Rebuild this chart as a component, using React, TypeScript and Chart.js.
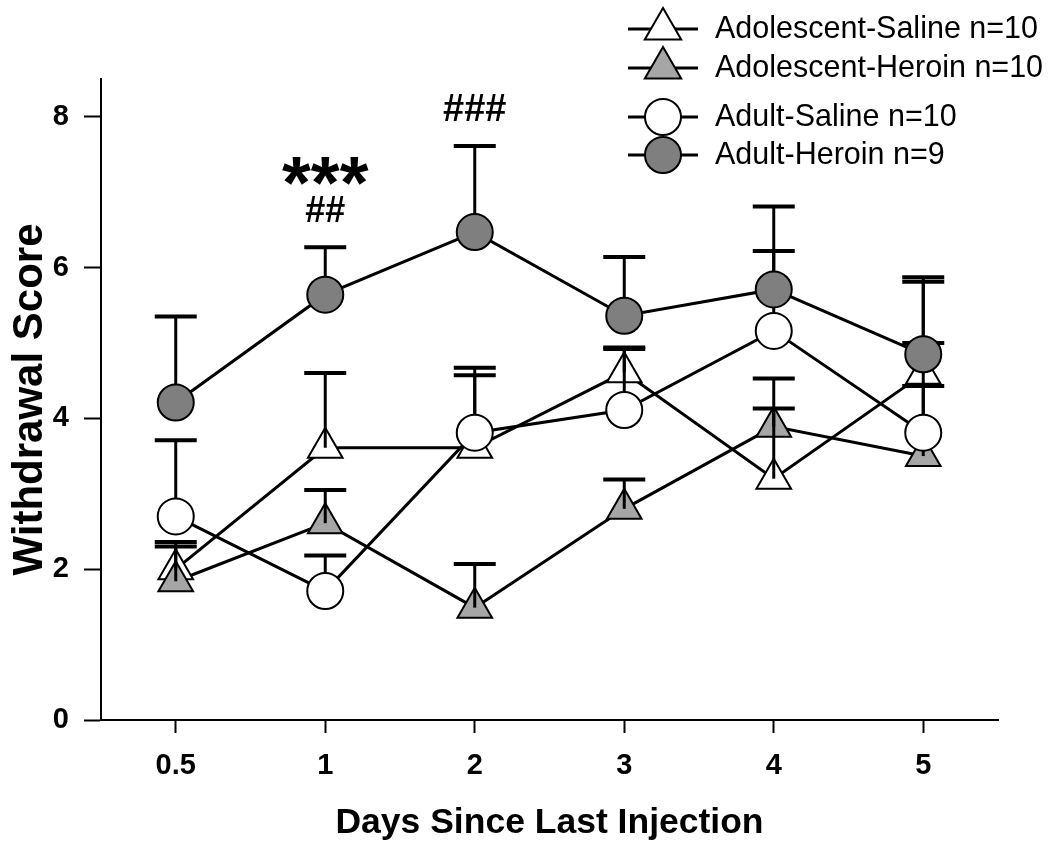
import React, { useEffect, useRef } from 'react';
import { Chart, registerables } from 'chart.js';

Chart.register(...registerables);

// ---- data ----
const categories = ['0.5', '1', '2', '3', '4', '5'];

const adolSalineMean = [2.0, 3.61, 3.61, 4.61, 3.2, 4.59];
const adolSalineTop = [2.36, 4.6, 4.57, 4.94, 4.13, 5.81];

const adolHeroinMean = [1.84, 2.61, 1.49, 2.8, 3.89, 3.5];
const adolHeroinTop = [2.3, 3.05, 2.07, 3.19, 4.53, 4.43];

const adultSalineMean = [2.7, 1.71, 3.81, 4.11, 5.16, 3.81];
const adultSalineTop = [3.71, 2.18, 4.67, 4.92, 6.22, 5.0];

const adultHeroinMean = [4.21, 5.64, 6.47, 5.36, 5.71, 4.85];
const adultHeroinTop = [5.35, 6.27, 7.61, 6.14, 6.81, 5.87];

const seriesLabels = [
  'Adolescent-Saline n=10',
  'Adolescent-Heroin n=10',
  'Adult-Saline n=10',
  'Adult-Heroin n=9',
];

const yMin = 0;
const yMax = 8.5;
const yStep = 2;

// significance annotations: text, category index, y value (baseline)
const annotTexts = ['***', '##', '###'];
const annotCats = [1, 1, 2];
const annotYs = [6.79, 6.6, 7.94];

// ---- styles ----
const FONT = "'Liberation Sans', Arial, Helvetica, sans-serif";
const LIGHT = '#a6a6a6';
const DARK = '#7f7f7f';

const series = [
  { label: seriesLabels[0], mean: adolSalineMean, top: adolSalineTop, style: 'triangle', fill: '#ffffff', radius: 20, order: 6 },
  { label: seriesLabels[1], mean: adolHeroinMean, top: adolHeroinTop, style: 'triangle', fill: LIGHT, radius: 20, order: 5 },
  { label: seriesLabels[2], mean: adultSalineMean, top: adultSalineTop, style: 'circle', fill: '#ffffff', radius: 18, order: 4 },
  { label: seriesLabels[3], mean: adultHeroinMean, top: adultHeroinTop, style: 'circle', fill: DARK, radius: 18, order: 3 },
];

function drawMarker(ctx: CanvasRenderingContext2D, style: string, x: number, y: number, r: number, fill: string) {
  ctx.save();
  ctx.beginPath();
  if (style === 'circle') {
    ctx.arc(x, y, r, 0, Math.PI * 2);
  } else {
    let rad = 0;
    ctx.moveTo(x + Math.sin(rad) * r, y - Math.cos(rad) * r);
    rad += (2 * Math.PI) / 3;
    ctx.lineTo(x + Math.sin(rad) * r, y - Math.cos(rad) * r);
    rad += (2 * Math.PI) / 3;
    ctx.lineTo(x + Math.sin(rad) * r, y - Math.cos(rad) * r);
    ctx.closePath();
  }
  ctx.fillStyle = fill;
  ctx.fill();
  ctx.lineWidth = 2;
  ctx.strokeStyle = '#000';
  ctx.stroke();
  ctx.restore();
}

const errorBarPlugin = {
  id: 'errorBars',
  afterDatasetDraw(chart: any, args: any) {
    const ds = chart.data.datasets[args.index];
    if (!ds || ds.drawErrAfter !== true) return;
    const xs = chart.scales.x;
    const ys = chart.scales.y;
    const ctx: CanvasRenderingContext2D = chart.ctx;
    ctx.save();
    ctx.strokeStyle = '#000';
    ctx.lineCap = 'butt';
    for (const s of series) {
      s.mean.forEach((m: number, i: number) => {
        const px = xs.getPixelForValue(i);
        const p0 = ys.getPixelForValue(m);
        const p1 = ys.getPixelForValue(s.top[i]);
        ctx.lineWidth = 3;
        ctx.beginPath();
        ctx.moveTo(px, p0);
        ctx.lineTo(px, p1);
        ctx.stroke();
        ctx.lineWidth = 4;
        ctx.beginPath();
        ctx.moveTo(px - 21, p1);
        ctx.lineTo(px + 21, p1);
        ctx.stroke();
      });
    }
    ctx.restore();
  },
};

const overlayPlugin = {
  id: 'overlay',
  afterDraw(chart: any) {
    const ctx: CanvasRenderingContext2D = chart.ctx;
    const xs = chart.scales.x;
    const ys = chart.scales.y;
    // annotations
    ctx.save();
    ctx.fillStyle = '#000';
    ctx.textAlign = 'center';
    ctx.textBaseline = 'alphabetic';
    annotTexts.forEach((t, i) => {
      const size = t.startsWith('*') ? 74 : t.length === 3 ? 38 : 36;
      ctx.font = `bold ${size}px ${FONT}`;
      ctx.fillText(t, xs.getPixelForValue(annotCats[i]), ys.getPixelForValue(annotYs[i]));
    });
    ctx.restore();

    // legend
    const rowsY = [29, 68, 117, 155];
    const lx0 = 628, lx1 = 698, mx = 663, tx = 715;
    ctx.save();
    series.forEach((s, i) => {
      const y = rowsY[i];
      ctx.strokeStyle = '#000';
      ctx.lineWidth = 3;
      ctx.beginPath();
      ctx.moveTo(lx0, y);
      ctx.lineTo(lx1, y);
      ctx.stroke();
      drawMarker(ctx, s.style, mx, y, s.style === 'circle' ? 18 : 21, s.fill);
      ctx.fillStyle = '#000';
      ctx.font = `30.5px ${FONT}`;
      ctx.textAlign = 'left';
      ctx.textBaseline = 'middle';
      ctx.fillText(s.label, tx, y + 1);
    });
    ctx.restore();
  },
};

export default function App() {
  const canvasRef = useRef<HTMLCanvasElement | null>(null);

  useEffect(() => {
    if (!canvasRef.current) return;
    const lineSets = series.map((s) => ({
      label: s.label + ' line',
      data: s.mean,
      borderColor: '#000',
      borderWidth: 3,
      pointRadius: 0,
      fill: false,
      tension: 0,
      order: 10,
      clip: false,
    }));
    const pointSets = series.map((s, i) => ({
      label: s.label,
      data: s.mean,
      showLine: false,
      pointStyle: s.style,
      pointRadius: s.radius,
      pointBackgroundColor: s.fill,
      pointBorderColor: '#000',
      pointBorderWidth: 2,
      order: s.order,
      clip: false,
      drawErrAfter: i === 1,
    }));

    const chart = new Chart(canvasRef.current, {
      type: 'line',
      data: {
        labels: categories,
        datasets: [...lineSets, ...pointSets] as any,
      },
      options: {
        responsive: false,
        animation: false,
        devicePixelRatio: 1,
        layout: { padding: { top: 79, right: 52, bottom: 0, left: 0 } },
        plugins: {
          legend: { display: false },
          tooltip: { enabled: false },
          title: { display: false },
        },
        scales: {
          x: {
            type: 'category',
            offset: true,
            grid: {
              display: true,
              drawOnChartArea: false,
              drawTicks: true,
              tickLength: 13,
              tickWidth: 2,
              tickColor: '#000',
              offset: false,
            },
            border: { display: true, color: '#000', width: 2 },
            ticks: {
              color: '#000',
              font: { family: FONT, size: 29, weight: 'bold' },
              padding: 16,
              maxRotation: 0,
              autoSkip: false,
            },
            title: {
              display: true,
              text: 'Days Since Last Injection',
              color: '#000',
              font: { family: FONT, size: 35.5, weight: 'bold' },
              padding: { top: 0, bottom: 3 },
            },
            afterFit: (s: any) => {
              s.height = 128;
            },
          },
          y: {
            type: 'linear',
            min: yMin,
            max: yMax,
            grid: {
              display: true,
              drawOnChartArea: false,
              drawTicks: true,
              tickLength: 17,
              tickWidth: 2,
              tickColor: '#000',
            },
            border: { display: true, color: '#000', width: 2 },
            ticks: {
              stepSize: yStep,
              includeBounds: false,
              color: '#000',
              font: { family: FONT, size: 29, weight: 'bold' },
              padding: 15,
            },
            title: {
              display: true,
              text: 'Withdrawal Score',
              color: '#000',
              font: { family: FONT, size: 42, weight: 'bold' },
              padding: { top: 5, bottom: 0 },
            },
            afterFit: (s: any) => {
              s.width = 101;
            },
          },
        },
      } as any,
      plugins: [errorBarPlugin, overlayPlugin],
    });
    return () => chart.destroy();
  }, []);

  return (
    <div style={{ position: 'absolute', left: 0, top: 0, width: 1050, height: 848, background: '#fff' }}>
      <canvas ref={canvasRef} width={1050} height={848} style={{ display: 'block' }} />
    </div>
  );
}
